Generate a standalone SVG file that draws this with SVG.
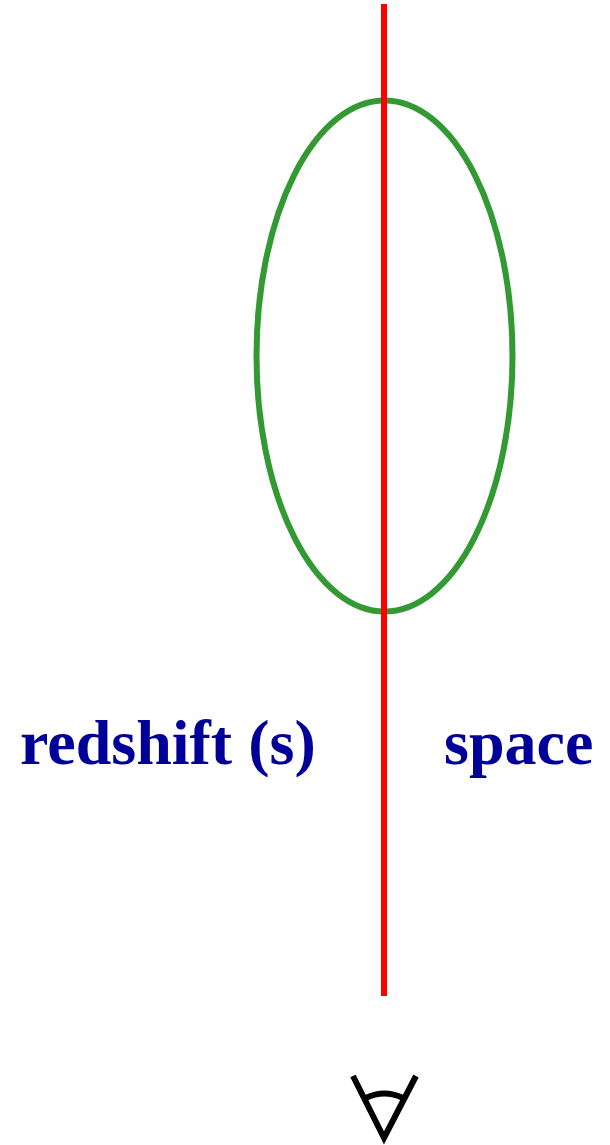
<svg xmlns="http://www.w3.org/2000/svg" width="610" height="1145" viewBox="0 0 610 1145">
<style>
.lbl{font-family:"Liberation Serif","Times New Roman",serif;font-weight:bold;font-size:64px;fill:#000099}
</style>
<rect width="610" height="1145" fill="#fff"/>
<ellipse cx="384.500" cy="356" rx="128" ry="255.500" fill="none" stroke="#339933" stroke-width="6"/>
<line x1="384" y1="4" x2="384" y2="996" stroke="#ff0000" stroke-width="6"/>
<text class="lbl" x="20" y="764">redshift (s)</text>
<text class="lbl" x="444" y="764">space</text>
<g fill="none" stroke="#000" stroke-width="6">
<path d="M353 1076L384 1138L416 1076"/>
<path d="M366 1098Q384 1089 403 1098"/>
</g>
</svg>
